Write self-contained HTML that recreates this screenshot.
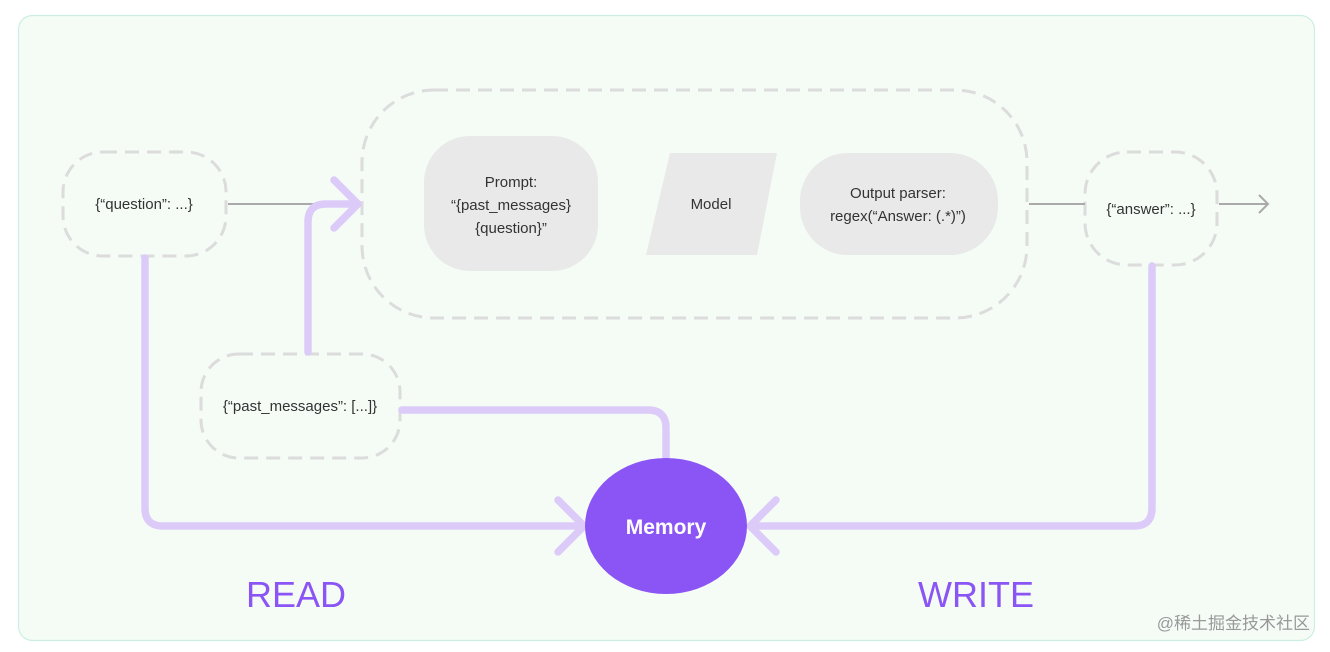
<!DOCTYPE html>
<html><head><meta charset="utf-8"><style>
html,body{margin:0;padding:0;background:#fff;}
svg{display:block;}
text{font-family:"Liberation Sans",sans-serif;}
</style></head><body>
<svg width="1330" height="652" viewBox="0 0 1330 652" xmlns="http://www.w3.org/2000/svg">
<rect x="18.5" y="15.5" width="1296" height="625" rx="14" fill="#f5fcf6" stroke="#cdeee2" stroke-width="1.2"/>
<g fill="none" stroke="#dcdcdc" stroke-width="3" stroke-dasharray="14 8">
<rect x="63" y="152" width="163" height="104" rx="40"/>
<rect x="362" y="90" width="665" height="228" rx="72"/>
<rect x="1085" y="152" width="132" height="113" rx="42"/>
<rect x="201" y="354" width="199" height="104" rx="38"/>
</g>
<g stroke="#aaaaaa" stroke-width="2" fill="none">
<line x1="228" y1="204" x2="352" y2="204"/>
<line x1="1029" y1="204" x2="1085" y2="204"/>
<line x1="1219" y1="204" x2="1268" y2="204"/>
<polyline points="1259,195 1268,204 1259,213"/>
</g>
<rect x="424" y="136" width="174" height="135" rx="46" fill="#e8e9e8"/>
<polygon points="670,153 777,153 757,255 646,255" fill="#e8e9e8"/>
<rect x="800" y="153" width="198" height="102" rx="48" fill="#e8e9e8"/>
<g fill="#333" font-size="15" text-anchor="middle">
<text x="511" y="187">Prompt:</text>
<text x="511" y="210">“{past_messages}</text>
<text x="511" y="233">{question}”</text>
<text x="711" y="209">Model</text>
<text x="898" y="198">Output parser:</text>
<text x="898" y="221">regex(“Answer: (.*)”)</text>
<text x="144" y="209">{“question”: ...}</text>
<text x="1151" y="214">{“answer”: ...}</text>
<text x="300" y="411">{“past_messages”: [...]}</text>
</g>
<g fill="none" stroke="#dccbf8" stroke-width="7.5" stroke-linecap="round" stroke-linejoin="round">
<path d="M308 352 V222 Q308 204 326 204 H358"/>
<polyline points="334,180 358,204 334,228"/>
<path d="M402 410 H648 Q666 410 666 428 V458"/>
<path d="M145 258 V508 Q145 526 163 526 H584"/>
<polyline points="558,500 584,526 558,552"/>
<path d="M1152 266 V508 Q1152 526 1134 526 H750"/>
<polyline points="776,500 750,526 776,552"/>
</g>
<ellipse cx="666" cy="526" rx="81" ry="68" fill="#8b55f5"/>
<text x="666" y="534" fill="#fff" font-size="21" font-weight="bold" text-anchor="middle">Memory</text>
<text x="296" y="607" fill="#8b55f5" font-size="36" text-anchor="middle">READ</text>
<text x="976" y="607" fill="#8b55f5" font-size="36" text-anchor="middle">WRITE</text>
<text x="1310" y="629" fill="#999" font-size="17" text-anchor="end" style='font-family:"Liberation Sans","Noto Sans CJK SC",sans-serif'>@稀土掘金技术社区</text>
</svg>
</body></html>
